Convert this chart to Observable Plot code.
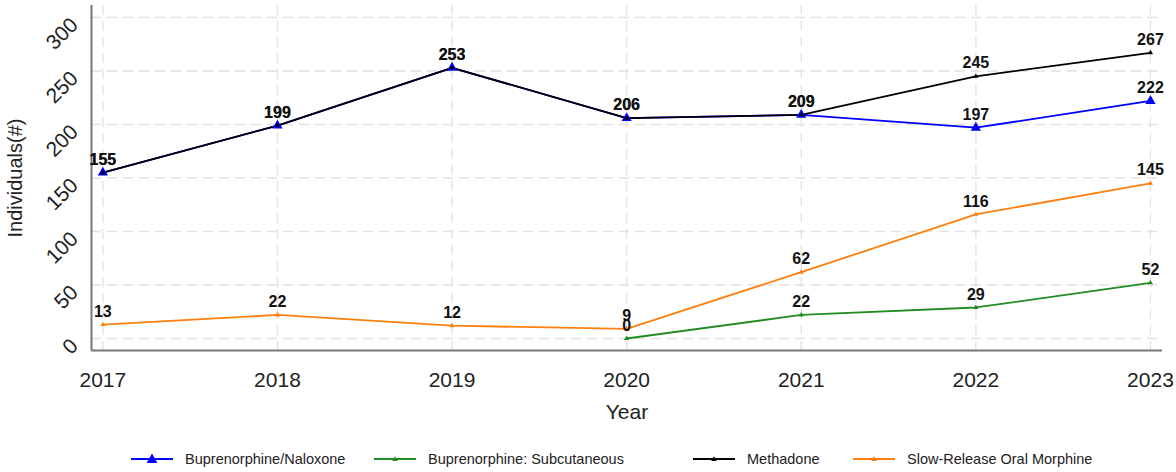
<!DOCTYPE html>
<html><head><meta charset="utf-8">
<script src="https://cdn.jsdelivr.net/npm/d3@7"></script>
<script src="https://cdn.jsdelivr.net/npm/@observablehq/plot@0.6"></script>
<style>
body{margin:0;background:#fff;font-family:"Liberation Sans",Arial,sans-serif;}
#legend{position:relative;width:1176px;height:27px;font-size:14.5px;color:#222;}
.item{position:absolute;top:0;height:27px;display:flex;align-items:center;white-space:nowrap;}
.item svg{margin-right:12px;}
</style>
</head><body><div id="chart"></div><div id="legend"></div>
<script>
const years = [2017, 2018, 2019, 2020, 2021, 2022, 2023];
const seriesNames = ["Buprenorphine/Naloxone", "Buprenorphine: Subcutaneous", "Methadone", "Slow-Release Oral Morphine"];
const bupNaloxone = [155, 199, 253, 206, 209, 197, 222];
const bupSubcutaneous = [null, null, null, 0, 22, 29, 52];
const methadone = [155, 199, 253, 206, 209, 245, 267];
const slowReleaseMorphine = [13, 22, 12, 9, 62, 116, 145];
const yTicks = [0, 50, 100, 150, 200, 250, 300];
const colors = ["#0000ff", "#228b22", "#000000", "#ff7f0e"];

const seriesValues = [bupNaloxone, bupSubcutaneous, methadone, slowReleaseMorphine];
const rows = [];
seriesNames.forEach((s, i) => {
  years.forEach((y, j) => {
    const v = seriesValues[i][j];
    if (v != null) rows.push({series: s, year: y, value: v});
  });
});

const xDomain = [2016.935, 2023.069];
const yDomain = [-11.2, 311.2];
const big = rows.filter(d => d.series === seriesNames[0]);
const small = rows.filter(d => d.series !== seriesNames[0]);

const chart = Plot.plot({
  width: 1176,
  height: 445,
  marginTop: 5,
  marginBottom: 95,
  marginLeft: 91,
  marginRight: 14,
  style: {fontFamily: "Liberation Sans, Arial, sans-serif", fontSize: "21px", color: "#222", background: "#fff"},
  x: {type: "linear", domain: xDomain},
  y: {domain: yDomain},
  color: {domain: seriesNames, range: colors},
  marks: [
    Plot.gridY(yTicks, {stroke: "#e2e2e2", strokeOpacity: 1, strokeWidth: 1.4, strokeDasharray: "10,6"}),
    Plot.gridX(years, {stroke: "#e2e2e2", strokeOpacity: 1, strokeWidth: 1.4, strokeDasharray: "10,6"}),
    Plot.ruleX([xDomain[0]], {stroke: "#777", strokeWidth: 2}),
    Plot.ruleY([yDomain[0]], {stroke: "#777", strokeWidth: 2}),
    Plot.axisX({ticks: years, tickFormat: d => String(d), tickSize: 0, tickPadding: 22, label: null, fontSize: 21}),
    Plot.axisY({ticks: yTicks, tickSize: 0, tickPadding: 16, tickRotate: -45, label: null, fontSize: 21, dx: -1, dy: 4}),
    Plot.text(["Individuals(#)"], {frameAnchor: "left", dx: -76, rotate: -90, textAnchor: "middle", lineAnchor: "middle", fontSize: 20, fill: "#222"}),
    Plot.text(["Year"], {frameAnchor: "bottom", dy: 62, textAnchor: "middle", lineAnchor: "middle", fontSize: 21, fill: "#222"}),
    Plot.line(rows, {x: "year", y: "value", z: "series", stroke: "series", strokeWidth: 1.8}),
    Plot.dot(big, {x: "year", y: "value", symbol: "triangle", fill: "series", r: 3.8, stroke: null}),
    Plot.dot(small, {x: "year", y: "value", symbol: "triangle", fill: "series", r: 1.9, stroke: null}),
    Plot.text(rows, {x: "year", y: "value", text: d => String(d.value), dy: -13, fontSize: 16, fontWeight: "bold", fill: "#111"})
  ]
});
document.getElementById("chart").appendChild(chart);

const legendLeft = [131, 374, 693, 853];
const legend = document.getElementById("legend");
seriesNames.forEach((s, i) => {
  const item = document.createElement("div");
  item.className = "item";
  item.style.left = legendLeft[i] + "px";
  const rr = i === 0 ? 5 : 2.6;
  const h = rr * 1.8;
  item.innerHTML = `<svg width="42" height="14"><line x1="0" y1="7" x2="42" y2="7" stroke="${colors[i]}" stroke-width="1.8"/>` +
    `<path d="M21,${7 - h * 0.6} L${21 + h * 0.6},${7 + h * 0.45} L${21 - h * 0.6},${7 + h * 0.45}Z" fill="${colors[i]}"/></svg><span>${s}</span>`;
  legend.appendChild(item);
});
</script>
</body></html>
